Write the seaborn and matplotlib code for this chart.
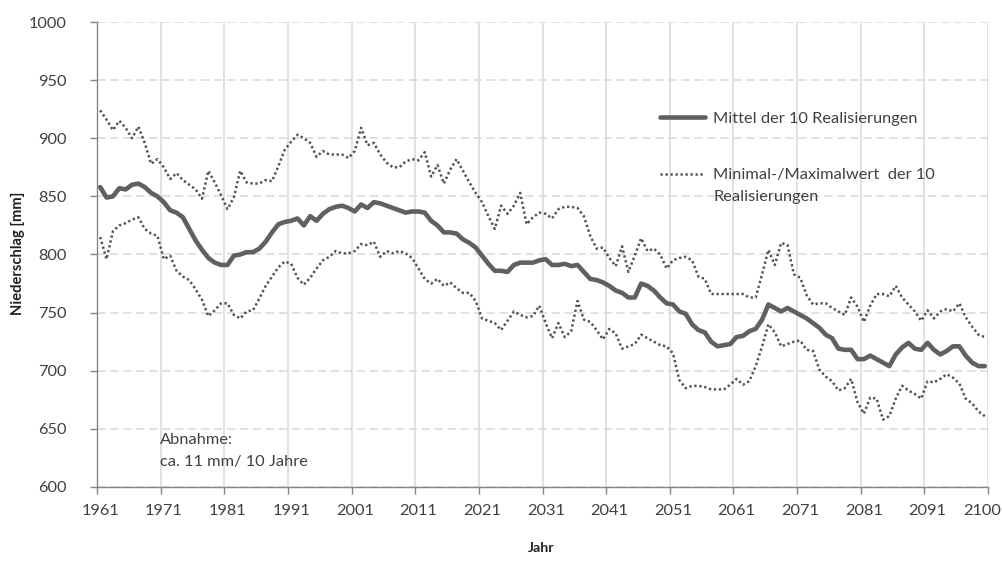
import numpy as np
import pandas as pd
import matplotlib
matplotlib.use("Agg")
import matplotlib.pyplot as plt
import matplotlib.transforms as mtransforms
import seaborn as sns
from matplotlib.lines import Line2D

# ---------------- data ----------------
years = list(range(1961, 2101))

mean_vals = [
    858, 849, 850, 857, 856, 860, 861, 858, 853, 850,   # 1961-1970
    845, 838, 836, 832, 822, 812, 804, 797, 793, 791,   # 1971-1980
    791, 799, 800, 802, 802, 805, 811, 819, 826, 828,   # 1981-1990
    829, 831, 825, 833, 829, 835, 839, 841, 842, 840,   # 1991-2000
    837, 843, 840, 845, 844, 842, 840, 838, 836, 837,   # 2001-2010
    837, 836, 829, 825, 819, 819, 818, 813, 810, 806,   # 2011-2020
    799, 792, 786, 786, 785, 791, 793, 793, 793, 795,   # 2021-2030
    796, 791, 791, 792, 790, 791, 785, 779, 778, 776,   # 2031-2040
    773, 769, 767, 763, 763, 775, 773, 769, 763, 758,   # 2041-2050
    757, 751, 749, 740, 735, 733, 725, 721, 722, 723,   # 2051-2060
    729, 730, 734, 736, 744, 757, 754, 751, 754, 751,   # 2061-2070
    748, 745, 741, 737, 731, 728, 719, 718, 718, 710,   # 2071-2080
    710, 713, 710, 707, 704, 714, 720, 724, 719, 718,   # 2081-2090
    724, 718, 714, 717, 721, 721, 713, 707, 704, 704,   # 2091-2100
]

max_vals = [
    924, 916, 907, 915, 909, 900, 910, 896, 878, 882,
    875, 865, 870, 864, 860, 856, 848, 872, 862, 851,
    839, 849, 872, 862, 861, 861, 864, 863, 876, 890,
    897, 903, 900, 896, 884, 889, 886, 886, 886, 883,
    889, 909, 894, 896, 886, 879, 875, 875, 880, 882,
    881, 888, 867, 877, 861, 873, 882, 872, 862, 853,
    845, 833, 822, 842, 835, 842, 853, 826, 832, 836,
    835, 831, 839, 841, 841, 840, 833, 816, 805, 806,
    797, 790, 807, 785, 799, 814, 803, 805, 800, 788,
    795, 797, 798, 795, 781, 779, 766, 766, 766, 766,
    766, 766, 763, 763, 783, 804, 791, 810, 808, 783,
    780, 765, 757, 758, 758, 754, 751, 748, 763, 755,
    742, 756, 766, 766, 764, 773, 763, 757, 751, 743,
    752, 745, 751, 753, 751, 758, 746, 738, 731, 729,
]

min_vals = [
    815, 796, 820, 825, 827, 830, 832, 822, 818, 816,
    796, 799, 786, 781, 778, 770, 761, 747, 752, 758,
    758, 748, 745, 751, 752, 762, 773, 781, 789, 794,
    792, 780, 774, 780, 788, 795, 798, 803, 801, 801,
    803, 809, 808, 811, 798, 803, 801, 803, 801, 797,
    788, 779, 775, 779, 773, 776, 771, 767, 767, 760,
    745, 743, 741, 735, 743, 751, 748, 746, 747, 756,
    741, 728, 741, 729, 734, 760, 744, 742, 735, 727,
    736, 732, 719, 721, 723, 731, 728, 725, 722, 721,
    715, 692, 685, 687, 687, 686, 684, 684, 684, 688,
    693, 688, 691, 704, 721, 740, 733, 721, 723, 725,
    726, 718, 717, 701, 695, 691, 683, 685, 693, 673,
    663, 677, 676, 658, 661, 676, 687, 683, 680, 676,
    691, 690, 693, 697, 694, 689, 676, 672, 665, 661,
]

tick_years = [1961, 1971, 1981, 1991, 2001, 2011, 2021, 2031, 2041, 2051,
              2061, 2071, 2081, 2091, 2100]
y_ticks = [600, 650, 700, 750, 800, 850, 900, 950, 1000]

label_mean = "Mittel der 10 Realisierungen"
label_minmax_1 = "Minimal-/Maximalwert  der 10"
label_minmax_2 = "Realisierungen"
note_text = "Abnahme:\nca. 11 mm/ 10 Jahre"

df = pd.DataFrame({"Jahr": years, "Mittel": mean_vals,
                   "Maximum": max_vals, "Minimum": min_vals})

# ---------------- style ----------------
sns.set_theme(style="white")
plt.rcParams["font.family"] = ["Lato", "DejaVu Sans"]

mean_c = "#606060"
dot_c = "#505050"
grid_c = "#d9d9d9"
spine_c = "#868686"
text_c = "#404040"
fs = 11.8
dotted = (0, (0.9, 1.1))

fig = plt.figure(figsize=(10.02, 5.63), dpi=100)
ax = fig.add_axes([97 / 1002, 1 - 487 / 563, 891 / 1002, 465 / 563])

sns.lineplot(data=df, x="Jahr", y="Maximum", ax=ax, color=dot_c,
             linewidth=1.8, linestyle=dotted, legend=False)
sns.lineplot(data=df, x="Jahr", y="Minimum", ax=ax, color=dot_c,
             linewidth=1.8, linestyle=dotted, legend=False)
sns.lineplot(data=df, x="Jahr", y="Mittel", ax=ax, color=mean_c,
             linewidth=3.3, legend=False)

ax.set_xlim(years[0] - 0.5, years[-1] + 0.5)
ax.set_ylim(y_ticks[0], y_ticks[-1])

# category boundaries carry tick marks & gridlines, labels centred on years
bounds = [y - 0.5 for y in tick_years[:-1]] + [years[-1] + 0.5]
ax.set_xticks(bounds)
ax.set_xticklabels([])
ax.set_xticks(tick_years, minor=True)
ax.set_xticklabels([str(t) for t in tick_years], minor=True)
ax.set_yticks(y_ticks)
ax.set_yticklabels([str(t) for t in y_ticks])

ax.tick_params(axis="x", which="major", direction="out", length=5,
               width=1, color=spine_c, bottom=True)
ax.tick_params(axis="x", which="minor", length=0, pad=12,
               labelsize=fs, labelcolor=text_c, bottom=True)
ax.tick_params(axis="y", which="major", direction="out", length=5,
               width=1, color=spine_c, left=True, pad=17,
               labelsize=fs, labelcolor=text_c)

# keep the last year label inside the canvas
last_lbl = ax.get_xticklabels(minor=True)[-1]
last_lbl.set_transform(last_lbl.get_transform() +
                       mtransforms.ScaledTranslation(-3 / 100, 0, fig.dpi_scale_trans))

ax.set_axisbelow(True)
ax.grid(axis="x", which="major", color=grid_c, linestyle="-", linewidth=1.1)
ax.grid(axis="y", which="major", color=grid_c, linestyle=(0, (5.5, 3)),
        linewidth=1.1)

for s in ["top", "right"]:
    ax.spines[s].set_visible(False)
for s in ["left", "bottom"]:
    ax.spines[s].set_color(spine_c)
    ax.spines[s].set_linewidth(1.0)

ax.set_xlabel("")
ax.set_ylabel("")
fig.text(18 / 1002, 1 - 253 / 563, "Niederschlag [mm]", rotation=90,
         ha="center", va="center", fontsize=10.6, fontweight="bold",
         color="#202020")
fig.text(541 / 1002, 1 - 548 / 563, "Jahr", ha="center", va="center",
         fontsize=10.2, fontweight="bold", color="#202020")

# legends
leg1 = ax.legend(handles=[Line2D([], [], color=mean_c, linewidth=3.3)],
                 labels=[label_mean], loc="center left",
                 bbox_to_anchor=((660 - 97) / 891, (487 - 119) / 465),
                 frameon=False, fontsize=fs, borderpad=0, borderaxespad=0,
                 handlelength=2.75, handletextpad=0.5, labelcolor=text_c)
ax.add_artist(leg1)
ax.legend(handles=[Line2D([], [], color=dot_c, linewidth=1.8, linestyle=dotted),
                   Line2D([], [], color="none")],
          labels=[label_minmax_1, label_minmax_2], loc="center left",
          bbox_to_anchor=((660 - 97) / 891, (487 - 186) / 465),
          frameon=False, fontsize=fs, borderpad=0, borderaxespad=0,
          handlelength=2.75, handletextpad=0.5, labelspacing=0.45,
          labelcolor=text_c)

ax.text((160 - 97) / 891, (487 - 433) / 465, note_text, transform=ax.transAxes,
        ha="left", va="top", fontsize=fs, color=text_c, linespacing=1.75)

fig.savefig("out.png", dpi=100)
